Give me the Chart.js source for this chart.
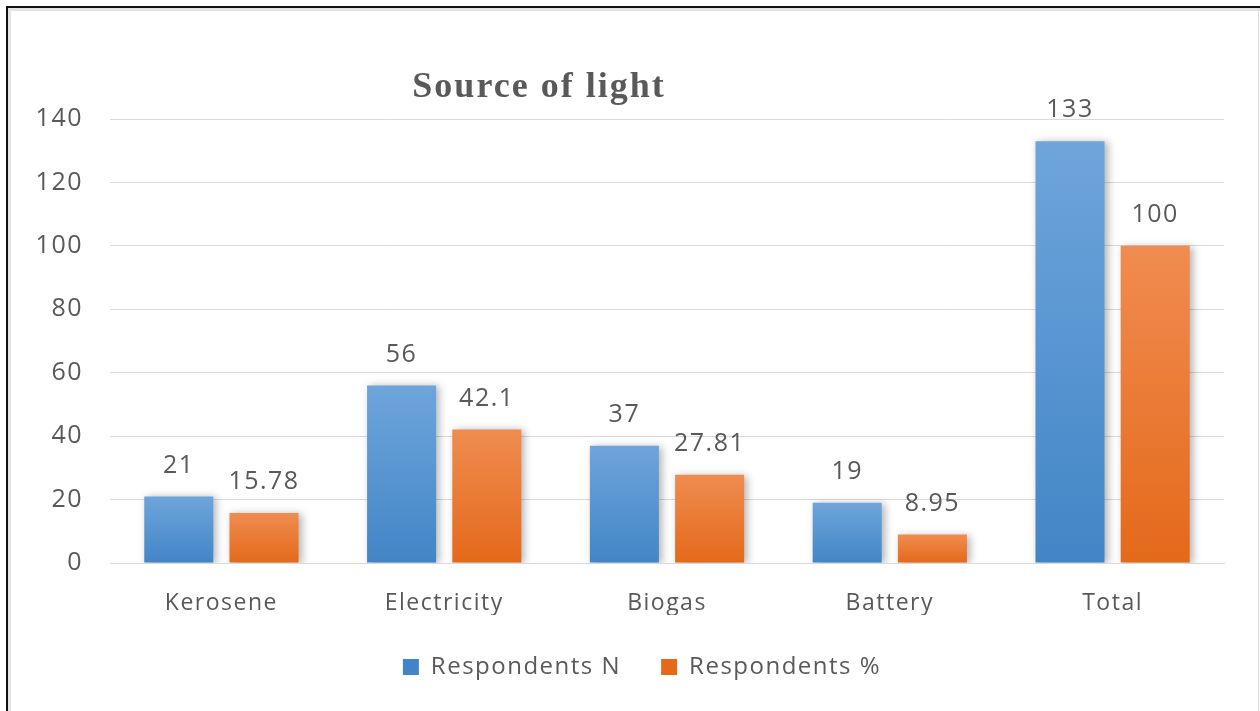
<!DOCTYPE html>
<html>
<head>
<meta charset="utf-8">
<script src="https://cdn.jsdelivr.net/npm/chart.js@4/dist/chart.umd.min.js"></script>
<style>
  html, body { margin: 0; padding: 0; background: #ffffff; }
  #wrap { width: 1260px; height: 711px; position: relative; }
  canvas { display: block; }
</style>
</head>
<body>
<div id="wrap"><canvas id="chart" width="1260" height="711"></canvas></div>
<script>
// Source of light survey: counts and shares per lighting source
const categories = ['Kerosene', 'Electricity', 'Biogas', 'Battery', 'Total'];
const respondentsN = [21, 56, 37, 19, 133];
const respondentsPct = [15.78, 42.1, 27.81, 8.95, 100];
const seriesNames = ['Respondents N', 'Respondents %'];
const yAxisMin = 0;
const yAxisMax = 140;
const yAxisStep = 20;
const chartTitle = 'Source of light';

const TEXT_GREY = '#595959';
const GRID_GREY = '#d9d9d9';

// Vertical gradient per bar, lighter at the top, darker at the base
function barGradient(topColor, bottomColor, midColor) {
  return (ctx) => {
    if (ctx.type !== 'data') return midColor;
    const chart = ctx.chart;
    const ys = chart.scales.y;
    if (!ys || ys.top === undefined) return midColor;
    const yTop = ys.getPixelForValue(ctx.raw);
    const yBase = ys.getPixelForValue(0);
    if (!isFinite(yTop) || !isFinite(yBase) || yBase - yTop < 1) return midColor;
    const g = chart.ctx.createLinearGradient(0, yTop, 0, yBase);
    g.addColorStop(0, topColor);
    g.addColorStop(1, bottomColor);
    return g;
  };
}

// Page frame and background; legend nudged to sit under the plot centre
const framePlugin = {
  id: 'frame',
  beforeUpdate(chart) { chart.ctx.letterSpacing = '1.5px'; },
  afterLayout(chart) {
    if (chart.legend) {
      chart.legend.left += 60;
      chart.legend.width -= 60;
    }
  },
  beforeDraw(chart) {
    const c = chart.ctx;
    c.letterSpacing = '1.5px';
    c.save();
    c.fillStyle = '#ffffff';
    c.fillRect(0, 0, chart.width, chart.height);
    // soft grey inner band
    c.fillStyle = '#e4e4e4';
    c.fillRect(8, 8, chart.width - 8, 3);
    c.fillRect(8, 8, 3, chart.height - 8);
    // black outer rule, top and left
    c.fillStyle = '#111111';
    c.fillRect(6, 6, chart.width - 6, 2);
    c.fillRect(6, 6, 2, chart.height - 6);
    // light rule on the right edge
    c.fillStyle = '#dcdcdc';
    c.fillRect(chart.width - 2, 8, 1, chart.height - 8);
    c.restore();
  }
};

// Soft drop shadow behind the bars
const barShadowPlugin = {
  id: 'barShadow',
  beforeDatasetsDraw(chart) {
    const c = chart.ctx;
    c.save();
    c.shadowColor = 'rgba(0,0,0,0.30)';
    c.shadowBlur = 8;
    c.shadowOffsetX = 3;
    c.shadowOffsetY = 1;
  },
  afterDatasetsDraw(chart) {
    chart.ctx.restore();
  }
};

// Value labels above each bar
const valueLabelPlugin = {
  id: 'valueLabels',
  afterDatasetsDraw(chart) {
    const c = chart.ctx;
    c.save();
    c.letterSpacing = '1.5px';
    c.font = '25px "Open Sans", sans-serif';
    c.fillStyle = TEXT_GREY;
    c.textAlign = 'center';
    c.textBaseline = 'middle';
    chart.data.datasets.forEach((ds, di) => {
      const meta = chart.getDatasetMeta(di);
      meta.data.forEach((bar, i) => {
        const v = ds.data[i];
        c.fillText(String(v), bar.x, bar.y - 31);
      });
    });
    c.restore();
  }
};

// Chart heading
const headingPlugin = {
  id: 'heading',
  afterDraw(chart) {
    const c = chart.ctx;
    c.save();
    c.letterSpacing = '2px';
    c.font = 'bold 36px "Liberation Serif", "Times New Roman", serif';
    c.fillStyle = TEXT_GREY;
    c.textAlign = 'center';
    c.textBaseline = 'alphabetic';
    c.fillText(chartTitle, 539, 97);
    c.restore();
  }
};

Chart.defaults.font.family = '"Open Sans", sans-serif';
Chart.defaults.color = TEXT_GREY;

new Chart(document.getElementById('chart'), {
  type: 'bar',
  data: {
    labels: categories,
    datasets: [
      {
        label: seriesNames[0],
        data: respondentsN,
        backgroundColor: barGradient('#6ea5db', '#4285c6', '#5b9bd5'),
        borderWidth: 0
      },
      {
        label: seriesNames[1],
        data: respondentsPct,
        backgroundColor: barGradient('#f08c50', '#e4691a', '#ed7d31'),
        borderWidth: 0
      }
    ]
  },
  options: {
    responsive: false,
    animation: false,
    devicePixelRatio: 1,
    layout: { padding: { left: 0, right: 36, top: 119, bottom: 22 } },
    datasets: { bar: { categoryPercentage: 0.765, barPercentage: 0.81 } },
    scales: {
      x: {
        grid: { display: false, drawTicks: false },
        border: { display: true, color: GRID_GREY, width: 1 },
        ticks: { color: TEXT_GREY, font: { size: 23 }, padding: 27 },
        afterFit(scale) { scale.height = 52; }
      },
      y: {
        min: yAxisMin,
        max: yAxisMax,
        ticks: { stepSize: yAxisStep, color: TEXT_GREY, font: { size: 25 }, padding: 27 },
        grid: { color: GRID_GREY, lineWidth: 1, drawTicks: false },
        border: { display: false },
        afterFit(scale) { scale.width = 110; }
      }
    },
    plugins: {
      legend: {
        position: 'bottom',
        labels: {
          boxWidth: 16,
          boxHeight: 16,
          padding: 40,
          color: TEXT_GREY,
          font: { size: 24 }
        }
      },
      tooltip: { enabled: false },
      title: { display: false }
    }
  },
  plugins: [framePlugin, barShadowPlugin, valueLabelPlugin, headingPlugin]
});
</script>
</body>
</html>
